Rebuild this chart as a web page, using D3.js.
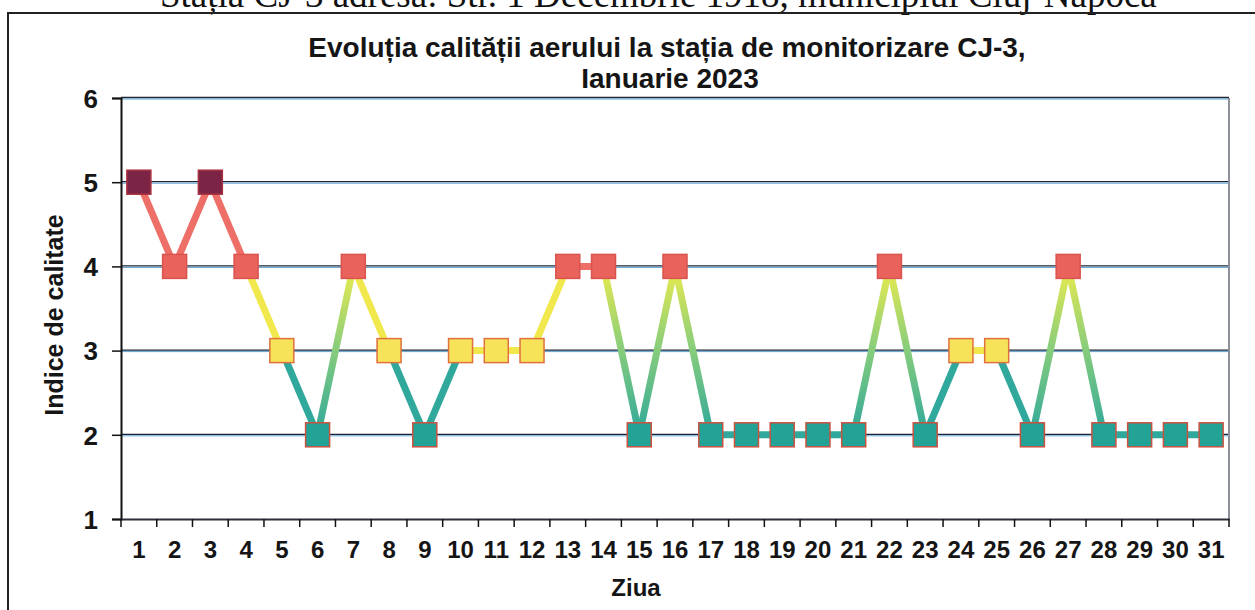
<!DOCTYPE html>
<html>
<head>
<meta charset="utf-8">
<script src="https://cdn.jsdelivr.net/npm/d3@7"></script>
<style>
  body { margin: 0; background: #fff; }
  svg { display: block; }
  text { font-family: Arial, "Liberation Sans", sans-serif; }
</style>
</head>
<body>
<div id="grafic"></div>
<script>
// Date: indicele de calitate pe zile, ianuarie 2023
const zile = d3.range(1, 32).map(String)
const indice = [5, 4, 5, 4, 3, 2, 4, 3, 2, 3, 3, 3, 4, 4, 2, 4, 2, 2, 2, 2, 2, 4, 2, 3, 3, 2, 4, 2, 2, 2, 2]
const ticksY = [1, 2, 3, 4, 5, 6]

// culori pe nivel (markere si linii)
const nivele = [2, 3, 4, 5]
const culoriMarker = ["#22a396", "#f6e35a", "#e9625b", "#7c2446"]
const culoriContur = ["#cc5140", "#e0703e", "#d9544f", "#a8323f"]
const culoriLinie = ["#30a89b", "#f1e84d", "#ee6f68", "#ee6f68"]

const width = 1255
const height = 610
const mStanga = 121, mDreapta = 1229, mSus = 98, mJos = 519

const svg = d3.select("#grafic")
  .append("svg")
  .attr("width", width)
  .attr("height", height)

// textul scanat de deasupra (taiat sus, ca in scanare)
svg.append("text")
  .attr("x", 160)
  .attr("y", 7)
  .style("font-family", "'Liberation Serif', 'Times New Roman', serif")
  .style("font-size", "37px")
  .attr("fill", "#111")
  .text("Stația CJ-3 adresa: Str. 1 Decembrie 1918, municipiul Cluj-Napoca")

// chenarul
svg.append("rect")
  .attr("x", 8)
  .attr("y", 13)
  .attr("width", 1300)
  .attr("height", 700)
  .attr("fill", "none")
  .attr("stroke", "#222")
  .attr("stroke-width", 2)

const x = d3.scaleBand().domain(zile).range([mStanga, mDreapta])
const y = d3.scaleLinear().domain([1, 6]).range([mJos, mSus])

// linii de grila
svg.selectAll("line.grila")
  .data(ticksY.slice(1))
  .enter()
  .append("line")
  .attr("class", "grila")
  .attr("x1", mStanga)
  .attr("x2", mDreapta)
  .attr("y1", d => y(d) - 0.5)
  .attr("y2", d => y(d) - 0.5)
  .attr("stroke", "#1f2430")
  .attr("stroke-width", 1.3)

svg.selectAll("line.grila2")
  .data(ticksY.slice(1))
  .enter()
  .append("line")
  .attr("class", "grila2")
  .attr("x1", mStanga)
  .attr("x2", mDreapta)
  .attr("y1", d => y(d) + 1)
  .attr("y2", d => y(d) + 1)
  .attr("stroke", "#5aa3d6")
  .attr("stroke-width", 1)

// marginea dreapta
svg.append("line")
  .attr("x1", mDreapta).attr("x2", mDreapta)
  .attr("y1", mSus).attr("y2", mJos)
  .attr("stroke", "#8d919c")
  .attr("stroke-width", 2)

// axa Y
const axaY = svg.append("g")
  .attr("transform", "translate(" + mStanga + ",0)")
  .call(d3.axisLeft(y).tickValues(ticksY).tickSize(9).tickPadding(14).tickFormat(d3.format("d")))
axaY.select(".domain").attr("stroke", "#111").attr("stroke-width", 2)
axaY.selectAll(".tick line").attr("stroke", "#111").attr("stroke-width", 1.5)
axaY.selectAll(".tick text")
  .attr("fill", "#151515")
  .style("font-size", "26px")
  .style("font-weight", "bold")
  .attr("dy", "0.36em")

// axa X
const axaX = svg.append("g")
  .attr("transform", "translate(0," + mJos + ")")
  .call(d3.axisBottom(x).tickSize(0).tickPadding(22))
axaX.select(".domain").attr("stroke", "#2a2f3a").attr("stroke-width", 2)
axaX.selectAll(".tick text")
  .attr("fill", "#151515")
  .style("font-size", "24px")
  .style("font-weight", "bold")

// gradatiile X intre categorii
svg.selectAll("line.gradX")
  .data(zile.concat(["end"]))
  .enter()
  .append("line")
  .attr("class", "gradX")
  .attr("x1", (d, i) => mStanga + i * x.step())
  .attr("x2", (d, i) => mStanga + i * x.step())
  .attr("y1", mJos)
  .attr("y2", mJos + 8)
  .attr("stroke", "#111")
  .attr("stroke-width", 1.5)

// titlurile
svg.append("text")
  .attr("x", 667)
  .attr("y", 57)
  .attr("text-anchor", "middle")
  .style("font-size", "28px")
  .style("font-weight", "bold")
  .attr("fill", "#151515")
  .text("Evoluția calității aerului la stația de monitorizare CJ-3,")

svg.append("text")
  .attr("x", 670)
  .attr("y", 88)
  .attr("text-anchor", "middle")
  .style("font-size", "28px")
  .style("font-weight", "bold")
  .attr("fill", "#151515")
  .text("Ianuarie 2023")

svg.append("text")
  .attr("x", 636)
  .attr("y", 596)
  .attr("text-anchor", "middle")
  .style("font-size", "24px")
  .style("font-weight", "bold")
  .attr("fill", "#151515")
  .text("Ziua")

svg.append("text")
  .attr("transform", "translate(63,315) rotate(-90)")
  .attr("text-anchor", "middle")
  .style("font-size", "25px")
  .style("font-weight", "bold")
  .attr("fill", "#151515")
  .text("Indice de calitate")

// segmentele liniei
const cx = d => x(d) + x.bandwidth() / 2
let segmente = []
for (let i = 0; i < indice.length - 1; i++) {
  segmente.push({ a: zile[i], b: zile[i + 1], va: indice[i], vb: indice[i + 1], id: i })
}

const defs = svg.append("defs")
segmente.forEach(function(s) {
  if (Math.abs(s.va - s.vb) > 1) {
    // de la punctul de jos la cel de sus
    let jos = s.va < s.vb ? s.a : s.b
    let sus = s.va < s.vb ? s.b : s.a
    let g = defs.append("linearGradient")
      .attr("id", "grad" + s.id)
      .attr("gradientUnits", "userSpaceOnUse")
      .attr("x1", cx(jos)).attr("y1", y(Math.min(s.va, s.vb)))
      .attr("x2", cx(sus)).attr("y2", y(Math.max(s.va, s.vb)))
    g.append("stop").attr("offset", "0%").attr("stop-color", "#2ea89b")
    g.append("stop").attr("offset", "50%").attr("stop-color", "#86cc7c")
    g.append("stop").attr("offset", "100%").attr("stop-color", "#ebeb4e")
  }
})

svg.selectAll("line.seg")
  .data(segmente)
  .enter()
  .append("line")
  .attr("class", "seg")
  .attr("x1", d => cx(d.a))
  .attr("y1", d => y(d.va))
  .attr("x2", d => cx(d.b))
  .attr("y2", d => y(d.vb))
  .attr("stroke", function(d) {
    if (Math.abs(d.va - d.vb) > 1) return "url(#grad" + d.id + ")"
    return culoriLinie[nivele.indexOf(Math.min(d.va, d.vb))]
  })
  .attr("stroke-width", 7)

// markerele patrate
const m = 24
svg.selectAll("rect.marker")
  .data(indice)
  .enter()
  .append("rect")
  .attr("class", "marker")
  .attr("x", (d, i) => cx(zile[i]) - m / 2)
  .attr("y", d => y(d) - m / 2)
  .attr("width", m)
  .attr("height", m)
  .attr("fill", d => culoriMarker[nivele.indexOf(d)])
  .attr("stroke", d => culoriContur[nivele.indexOf(d)])
  .attr("stroke-width", 1.5)
</script>
</body>
</html>
